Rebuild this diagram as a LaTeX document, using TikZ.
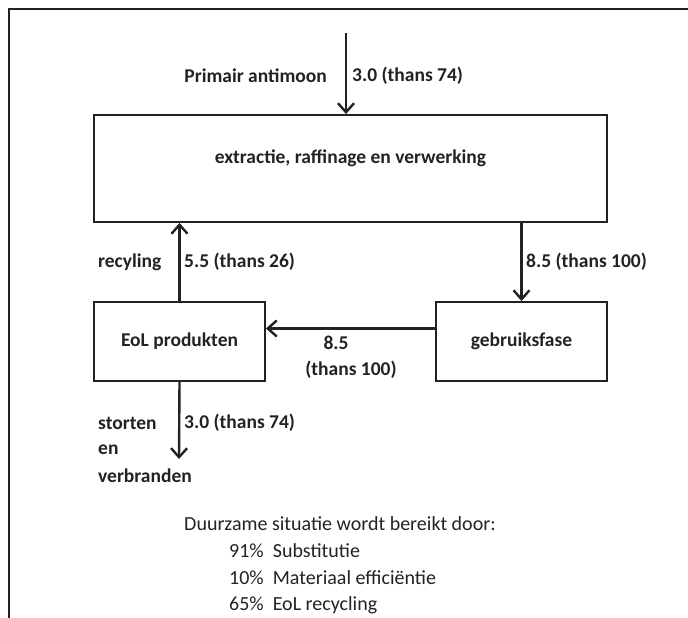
\documentclass[tikz,border=0pt]{standalone}
\usepackage{fontspec}
\setmainfont{Carlito}
\usetikzlibrary{arrows.meta}
\definecolor{ink}{HTML}{222222}
\begin{document}
\begin{tikzpicture}[x=1pt,y=-1pt,
  box/.style={draw=ink,line width=1.9pt,inner sep=0pt},
  lbl/.style={font=\fontsize{19.5}{22}\selectfont\bfseries,text=ink,inner sep=0pt},
  note/.style={font=\fontsize{20}{23}\selectfont,text=ink,inner sep=0pt,anchor=west},
  flow/.style={draw=ink,line width=2.4pt,-{Straight Barb[length=9pt,width=16pt,line width=2.4pt]}},
  frame/.style={draw=ink,line width=1.9pt}]
\useasboundingbox (0,0) rectangle (688,618);
\draw[frame] (9,618) -- (9,9) -- (688,9);
% boxes
\node[box,minimum width=513pt,minimum height=107pt] (ext) at (350.5,168.5) {};
\node[lbl] (exttext) at (350.5,158) {extractie, raffinage en verwerking};
\node[box,minimum width=171pt,minimum height=79pt,lbl] (eol) at (179.5,341.5) {EoL produkten};
\node[box,minimum width=171pt,minimum height=79pt,lbl] (geb) at (521.5,341.5) {gebruiksfase};
% coordinates
\coordinate (src) at (346,33);
\coordinate (sink) at (179,459);
% flows
\draw[flow] (src) -- (src |- ext.north);
\draw[flow] (eol.north) -- (eol.north |- ext.south);
\draw[flow] (geb.north |- ext.south) -- (geb.north);
\draw[flow] ([yshift=13pt]geb.west) -- ([yshift=13pt]eol.east);
\draw[flow] (eol.south) -- (sink);
% labels
\node[lbl,anchor=east] (l1) at (327,76) {Primair antimoon};
\node[lbl,anchor=west] (l2) at (352,76) {3.0 (thans 74)};
\node[lbl,anchor=west] (l3) at (98,262) {recyling};
\node[lbl,anchor=west] (l4) at (184,262) {5.5 (thans 26)};
\node[lbl,anchor=west] (l5) at (526,262) {8.5 (thans 100)};
\node[lbl] (l6) at (336,343) {8.5};
\node[lbl] (l7) at (351,370) {(thans 100)};
\node[lbl,anchor=west] (l8) at (98,423) {storten};
\node[lbl,anchor=west] (l9) at (98,450) {en};
\node[lbl,anchor=west] (l10) at (98,476) {verbranden};
\node[lbl,anchor=west] (l11) at (184,423) {3.0 (thans 74)};
% note
\node[note] (n0) at (184,524) {Duurzame situatie wordt bereikt door:};
\node[note] (n1) at (229,551) {91\%\ \ Substitutie};
\node[note] (n2) at (229,578) {10\%\ \ Materiaal efficiëntie};
\node[note] (n3) at (229,605) {65\%\ \ EoL recycling};
\end{tikzpicture}
\end{document}
